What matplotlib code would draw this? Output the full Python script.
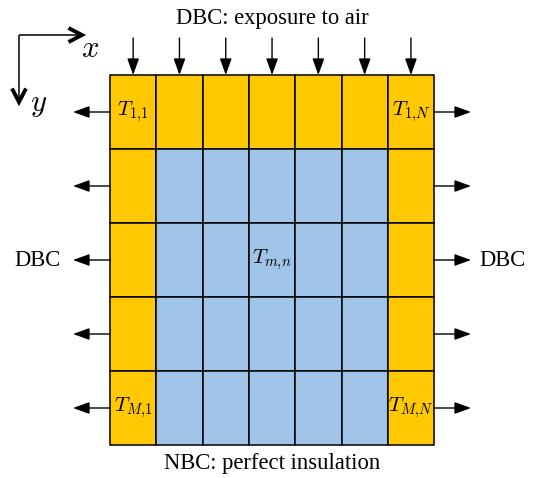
import matplotlib
matplotlib.use("Agg")
import matplotlib.pyplot as plt
from matplotlib.patches import Rectangle
import numpy as np

plt.rcParams['mathtext.fontset'] = 'cm'
plt.rcParams['font.family'] = ['Liberation Serif', 'DejaVu Serif']

# Data
n_rows = 5
n_cols = 7
boundary_color = "#FFC800"
interior_color = "#A0C3E8"
cell_labels = {(0, 0): r"$T_{1,\!1}$", (0, 6): r"$T_{1,\!N}$",
               (4, 0): r"$T_{M,\!1}$", (4, 6): r"$T_{M,\!N}$",
               (2, 3): r"$T_{m,\!n}$"}
top_text = "DBC: exposure to air"
bottom_text = "NBC: perfect insulation"
side_text = "DBC"

# Layout (pixel coordinates)
W, H = 537, 478
x0, y0 = 110, 75
cw, ch = 46.3, 74.0

fig = plt.figure(figsize=(W / 100, H / 100), dpi=100)
ax = fig.add_axes([0, 0, 1, 1])
ax.set_xlim(0, W)
ax.set_ylim(H, 0)
ax.axis('off')

for r in range(n_rows):
    for c in range(n_cols):
        is_b = r == 0 or c == 0 or c == n_cols - 1
        col = boundary_color if is_b else interior_color
        ax.add_patch(Rectangle((x0 + c * cw, y0 + r * ch), cw, ch,
                               facecolor=col, edgecolor='black', lw=1.1))

for (r, c), lab in cell_labels.items():
    ax.text(x0 + (c + 0.5) * cw, y0 + (r + 0.5) * ch, lab,
            ha='center', va='center', fontsize=15)

aprops = dict(arrowstyle='-|>,head_length=0.5,head_width=0.18', color='black',
              lw=1.0, mutation_scale=20, shrinkA=0, shrinkB=0)
xr = x0 + n_cols * cw
for c in range(n_cols):
    xc = x0 + (c + 0.5) * cw
    ax.annotate('', xy=(xc, y0), xytext=(xc, 38), arrowprops=aprops)
for r in range(n_rows):
    yc = y0 + (r + 0.5) * ch
    ax.annotate('', xy=(73, yc), xytext=(x0, yc), arrowprops=aprops)
    ax.annotate('', xy=(471, yc), xytext=(xr, yc), arrowprops=aprops)

# axis indicator
ox, oy = 19, 35
tx, ty = 82, 102
hl, hw = 13.5, 7
ax.plot([ox, tx - 1], [oy, oy], color='black', lw=1.1, solid_capstyle='butt')
ax.plot([ox, ox], [oy, ty - 1], color='black', lw=1.1, solid_capstyle='butt')
ax.plot([tx - hl, tx, tx - hl], [oy - hw, oy, oy + hw], color='black', lw=2.8,
        solid_joinstyle='miter', solid_capstyle='butt')
ax.plot([ox - hw, ox, ox + hw], [ty - hl, ty, ty - hl], color='black', lw=2.8,
        solid_joinstyle='miter', solid_capstyle='butt')
ax.text(90, 49, r"$x$", ha='center', va='center', fontsize=22)
ax.text(39, 104, r"$y$", ha='center', va='center', fontsize=22)

ax.text(272, 18, top_text, ha='center', va='center', fontsize=16.3)
ax.text(272, 464, bottom_text, ha='center', va='center', fontsize=16.3)
ax.text(38, 260, side_text, ha='center', va='center', fontsize=16.3)
ax.text(503, 260, side_text, ha='center', va='center', fontsize=16.3)

fig.savefig("out.png", dpi=100)
